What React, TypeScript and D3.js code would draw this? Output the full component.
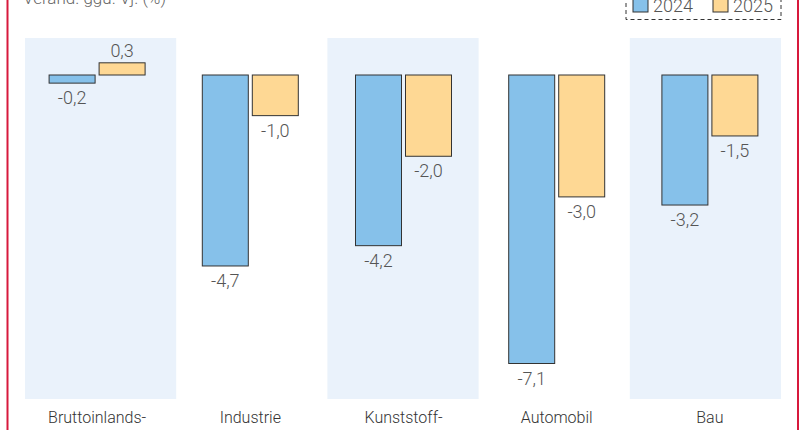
import React from 'react';
import * as d3 from 'd3';

const categories = ['Bruttoinlands-produkt', 'Industrie', 'Kunststoff-industrie', 'Automobil', 'Bau'];
const series = ['2024', '2025'];
const values2024 = [-0.2, -4.7, -4.2, -7.1, -3.2];
const values2025 = [0.3, -1.0, -2.0, -3.0, -1.5];

const colors: Record<string, string> = { '2024': '#86c1ea', '2025': '#fed894' };
const W = 805;
const H = 430;
const FONT = 'Roboto, "Liberation Sans", sans-serif';

const de = d3.formatLocale({
  decimal: ',',
  thousands: '.',
  grouping: [3],
  currency: ['', ' €'],
  minus: '-',
});
const fmt = de.format('.1f');

const App: React.FC = () => {
  // zero line sits at y=75, -7,1 ends near y=363
  const y = d3.scaleLinear().domain([0, -7.1]).range([75, 363.5]);

  // shaded background columns
  const bg = d3.scaleBand<string>().domain(categories).range([25, 781]).padding(0);
  // bar groups
  const x0 = d3.scaleBand<string>().domain(categories).range([20.5, 786.5]).padding(0);
  const x1 = d3.scaleBand<string>().domain(series).range([-48, 48]).paddingInner(0.08);

  const rows = categories.map((c, i) => ({
    cat: c,
    vals: [
      { s: '2024', v: values2024[i] },
      { s: '2025', v: values2025[i] },
    ],
  }));

  return (
    <svg
      width={W}
      height={H}
      style={{ position: 'absolute', left: 0, top: 0, background: '#fff' }}
      fontFamily={FONT}
    >
      {/* background bands */}
      {categories.map((c, i) =>
        i % 2 === 0 ? (
          <rect key={c} x={bg(c)} y={38} width={bg.bandwidth()} height={361} fill="#eaf2fb" />
        ) : null
      )}

      {/* title, cut at top */}
      <text x={23} y={4} fontSize={17} fill="#666" fontWeight={300}>
        Veränd. ggü. Vj. (%)
      </text>

      {/* legend */}
      <rect x={626} y={-8} width={155} height={27.5} fill="none" stroke="#333" strokeDasharray="4,3" />
      {series.map((s, i) => (
        <g key={s} transform={`translate(${633 + i * 80},0)`}>
          <rect x={0} y={-3} width={15} height={15} fill={colors[s]} stroke="#333" strokeWidth={1} />
          <text x={20} y={12} fontSize={18} fill="#555" fontWeight={300}>
            {s}
          </text>
        </g>
      ))}

      {/* bars */}
      {rows.map((r) => {
        const cx = (x0(r.cat) as number) + x0.bandwidth() / 2;
        return (
          <g key={r.cat}>
            {r.vals.map((d) => {
              const bx = cx + (x1(d.s) as number);
              const top = Math.min(y(0), y(d.v));
              const h = Math.abs(y(d.v) - y(0));
              const ly = d.v < 0 ? y(d.v) + 21 : y(d.v) - 6;
              return (
                <g key={d.s}>
                  <rect
                    x={bx}
                    y={top}
                    width={x1.bandwidth()}
                    height={h}
                    fill={colors[d.s]}
                    stroke="#333"
                    strokeWidth={1}
                  />
                  <text
                    x={bx + x1.bandwidth() / 2}
                    y={ly}
                    textAnchor="middle"
                    fontSize={18}
                    fill="#555"
                    fontWeight={300}
                  >
                    {fmt(d.v)}
                  </text>
                </g>
              );
            })}
            <text textAnchor="middle" fontSize={16} fill="#333" fontWeight={300}>
              {r.cat.split('-').map((part, k, arr) => (
                <tspan key={k} x={cx} y={423 + k * 19}>
                  {part + (k < arr.length - 1 ? '-' : '')}
                </tspan>
              ))}
            </text>
          </g>
        );
      })}

      {/* red frame */}
      <line x1={7.5} x2={7.5} y1={0} y2={H} stroke="#d7193c" strokeWidth={2} />
      <line x1={798} x2={798} y1={0} y2={H} stroke="#d7193c" strokeWidth={2} />
    </svg>
  );
};

export default App;
